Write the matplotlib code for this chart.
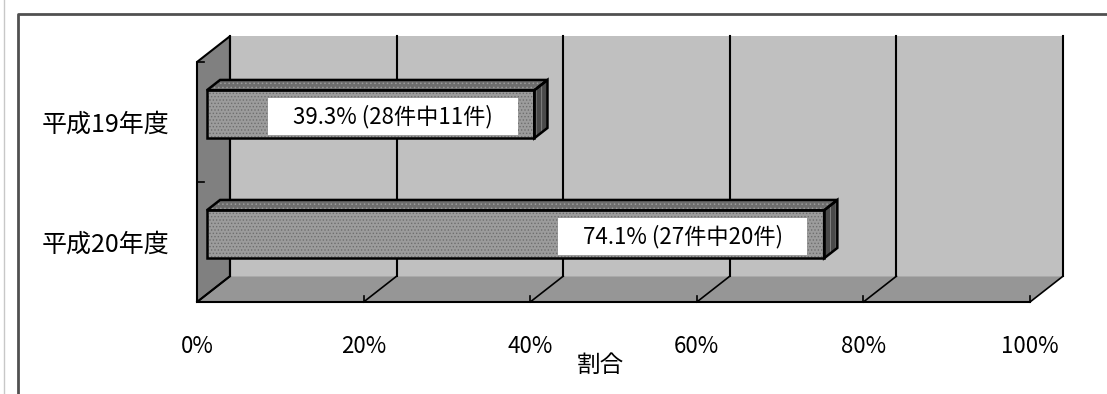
import matplotlib
matplotlib.use("Agg")
import matplotlib.pyplot as plt
from matplotlib.patches import Polygon, Rectangle
from matplotlib.lines import Line2D

plt.rcParams['font.family'] = ['Noto Sans CJK JP', 'DejaVu Sans']
plt.rcParams['hatch.linewidth'] = 0.6

# data
categories = ["平成20年度", "平成19年度"]
rates = [74.1, 39.3]
labels = ["74.1% (27件中20件)", "39.3% (28件中11件)"]
xticks = [0, 20, 40, 60, 80, 100]
xtick_labels = ["0%", "20%", "40%", "60%", "80%", "100%"]

fig = plt.figure(figsize=(11.07, 3.94), dpi=100)
ax = fig.add_axes([197 / 1107, 1 - 302 / 394, 833 / 1107, 240 / 394])
ax.set_xlim(0, 100)
ax.set_ylim(0, 2)
ax.patch.set_visible(False)
for s in ax.spines.values():
    s.set_visible(False)

# 3d depth offsets (data units)
DX, DY = 3.96, 0.215
F0, FB = 0.3, 0.4
H = 0.4

def poly(pts, **kw):
    p = Polygon(pts, closed=True, clip_on=False, **kw)
    ax.add_patch(p)
    return p

# walls
poly([(DX, DY), (100 + DX, DY), (100 + DX, 2 + DY), (DX, 2 + DY)],
     facecolor='#c0c0c0', edgecolor='none', zorder=1)
poly([(0, 0), (DX, DY), (DX, 2 + DY), (0, 2)],
     facecolor='#808080', edgecolor='black', lw=1.5, zorder=2)
poly([(0, 0), (100, 0), (100 + DX, DY), (DX, DY)],
     facecolor='#969696', edgecolor='none', zorder=1)
ax.plot([0, 100], [0, 0], color='black', lw=1.5, clip_on=False, zorder=3)

for t in xticks:
    ax.plot([t + DX, t + DX], [DY, 2 + DY], color='black', lw=1.5, clip_on=False, zorder=2)
    ax.plot([t, t + DX], [0, DY], color='black', lw=1.2, clip_on=False, zorder=2)
    ax.plot([t, t], [0, 0.05], color='black', lw=1.2, clip_on=False, zorder=2)
for yv in [0, 1, 2]:
    ax.plot([0, 0.9], [yv, yv], color='black', lw=1.2, clip_on=False, zorder=3)

# bars
BOX_W, BOX_H = 30.0, 0.31
for i, (v, lab) in enumerate(zip(rates, labels)):
    c = i + 0.5
    x0 = F0 * DX
    x1 = x0 + v
    y0 = c + F0 * DY - H / 2
    y1 = y0 + H
    ddx, ddy = FB * DX, FB * DY
    front = [(x0, y0), (x1, y0), (x1, y1), (x0, y1)]
    top = [(x0, y1), (x1, y1), (x1 + ddx, y1 + ddy), (x0 + ddx, y1 + ddy)]
    side = [(x1, y0), (x1 + ddx, y0 + ddy), (x1 + ddx, y1 + ddy), (x1, y1)]
    poly(front, facecolor='#9c9c9c', edgecolor='#6e6e6e', hatch='.....', lw=0, zorder=4)
    poly(top, facecolor='#6c6c6c', edgecolor='#9a9a9a', hatch='....', lw=0, zorder=4)
    poly(side, facecolor='#4a4a4a', edgecolor='#8a8a8a', hatch='|||', lw=0, zorder=4)
    for pts in (front, top, side):
        poly(pts, fill=False, edgecolor='black', lw=1.8, zorder=5)
    # label box inside the bar end
    bx1 = x1 - 2.0
    by = (y0 + y1) / 2 - 0.02
    ax.add_patch(Rectangle((bx1 - BOX_W, by - BOX_H / 2), BOX_W, BOX_H,
                           facecolor='white', edgecolor='none', zorder=6, clip_on=False))
    ax.text(bx1 - BOX_W / 2, by, lab, ha='center', va='center', fontsize=16, zorder=7)

ax.set_yticks([0.5, 1.5])
ax.set_yticklabels(categories, fontsize=18)
ax.tick_params(axis='y', length=0, pad=20)
ax.set_xticks(xticks)
ax.set_xticklabels(xtick_labels, fontsize=16)
ax.tick_params(axis='x', length=0, pad=24)
ax.set_xlabel("割合", fontsize=17)
ax.xaxis.set_label_coords((600 - 197) / 833, (302 - 354) / 240)

# chart frame
fig.add_artist(Line2D([4 / 1107, 4 / 1107], [0, 1], color='#c8c8c8', lw=1))
fig.add_artist(Line2D([18 / 1107, 18 / 1107, 1], [0, 1 - 14 / 394, 1 - 14 / 394],
                      color='#505050', lw=2))

fig.savefig("out.png", dpi=100, facecolor='white')
